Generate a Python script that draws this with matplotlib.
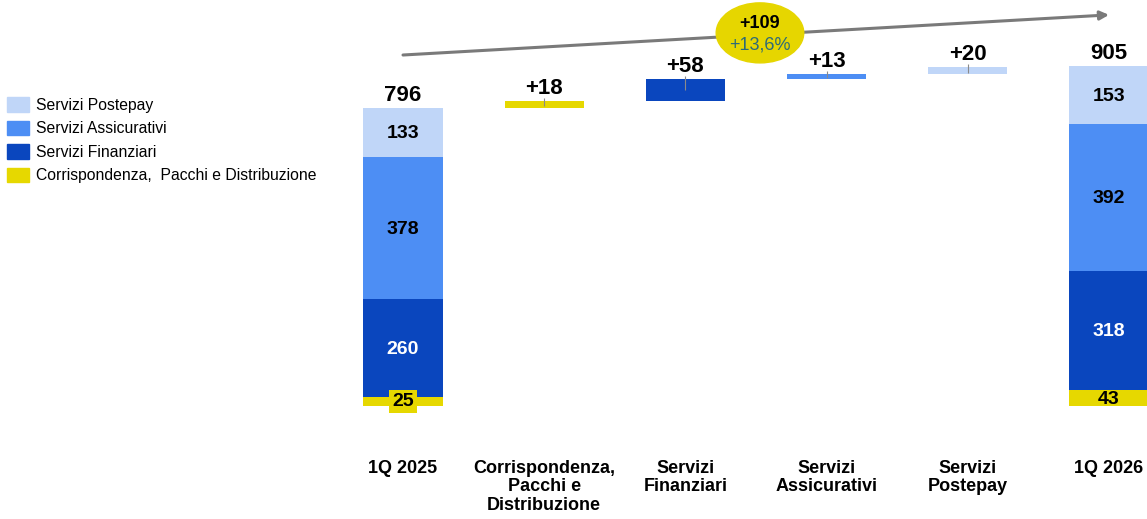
import matplotlib
matplotlib.use("Agg")
import matplotlib.pyplot as plt
from matplotlib.patches import Ellipse, Patch

# --- data -------------------------------------------------------------
categories = ["1Q 2025", "Corrispondenza,\nPacchi e\nDistribuzione", "Servizi\nFinanziari",
              "Servizi\nAssicurativi", "Servizi\nPostepay", "1Q 2026"]
segment_names = ["Corrispondenza,  Pacchi e Distribuzione", "Servizi Finanziari",
                 "Servizi Assicurativi", "Servizi Postepay"]
start_segments = [25, 260, 378, 133]   # 1Q 2025, bottom to top
end_segments = [43, 318, 392, 153]     # 1Q 2026, bottom to top
start_total = 796
end_total = 905
deltas = [18, 58, 13, 20]
delta_labels = ["+18", "+58", "+13", "+20"]
growth_abs = "+109"
growth_pct = "+13,6%"

colors = ["#E6D800", "#0A46BE", "#4D8EF4", "#C0D6F8"]
seg_text_colors = ["black", "white", "black", "black"]
delta_colors = colors  # same order as segments

plt.rcParams["font.family"] = ["Liberation Sans", "DejaVu Sans"]

fig = plt.figure(figsize=(11.47, 5.19), dpi=100)
# axes placed so that the bars land where they are in the reference
W, H = 1147, 519
ax = fig.add_axes([330 / W, 1 - 455 / H, 817 / W, 455 / H])
ax.set_xlim(-0.517, 5.269)
ax.set_ylim(-130.7, 1082.7)
ax.axis("off")

bw = 0.56
x = list(range(len(categories)))

# first and last stacked bars
for xi, segs, total in [(x[0], start_segments, start_total), (x[-1], end_segments, end_total)]:
    bottom = 0
    for i, v in enumerate(segs):
        ax.bar(xi, v, bottom=bottom, width=bw, color=colors[i], zorder=2)
        yc = bottom + v / 2
        if i == 0 and v < 30:
            ax.text(xi, yc, str(v), ha="center", va="center", fontsize=14, fontweight="bold",
                    color=seg_text_colors[i], zorder=4,
                    bbox=dict(boxstyle="square,pad=0.15", fc=colors[0], ec="none"))
        else:
            ax.text(xi, yc - 4, str(v), ha="center", va="center", fontsize=14, fontweight="bold",
                    color=seg_text_colors[i], zorder=4)
        bottom += v
    ax.annotate(str(total), (xi, bottom), xytext=(0, 9), textcoords="offset points",
                ha="center", va="center", fontsize=16, fontweight="bold")

# floating delta bars
level = start_total
for j, d in enumerate(deltas):
    xi = x[j + 1]
    ax.bar(xi, d, bottom=level, width=bw, color=delta_colors[j], zorder=2)
    top = level + d
    ax.vlines(xi, top - min(0.8 * d, 30), top + 8, color="#8a8a8a", lw=0.8, zorder=3)
    ax.annotate(delta_labels[j], (xi, top), xytext=(0, 9), textcoords="offset points",
                ha="center", va="center", fontsize=16, fontweight="bold")
    level = top

# growth arrow and bubble
ax.annotate("", xy=(5.0, 1043), xytext=(0, 936),
            arrowprops=dict(arrowstyle="-|>", color="#7a7a7a", lw=2.2,
                            mutation_scale=13, shrinkA=0, shrinkB=0), zorder=3)
ax.add_patch(Ellipse((2.528, 995), 0.62, 160, color="#E6D600", zorder=5, clip_on=False))
ax.text(2.528, 1019, growth_abs, ha="center", va="center", fontsize=13,
        fontweight="bold", zorder=6)
ax.text(2.528, 963, growth_pct, ha="center", va="center", fontsize=13,
        color="#2E6B78", zorder=6)

# category labels
for xi, lab in zip(x, categories):
    ax.text(xi, -144, lab, ha="center", va="top", fontsize=13,
            fontweight="bold", linespacing=1.1, clip_on=False)

# legend (top entry = Postepay)
handles = [Patch(color=colors[i]) for i in range(3, -1, -1)]
labels = [segment_names[i] for i in range(3, -1, -1)]
fig.legend(handles, labels, loc="upper left", bbox_to_anchor=(7 / W, 1 - 97 / H),
           frameon=False, fontsize=11.3, handlelength=1.4, handleheight=1.07,
           labelspacing=0.5, handletextpad=0.45, borderpad=0, borderaxespad=0)

fig.savefig("out.png", dpi=100)
